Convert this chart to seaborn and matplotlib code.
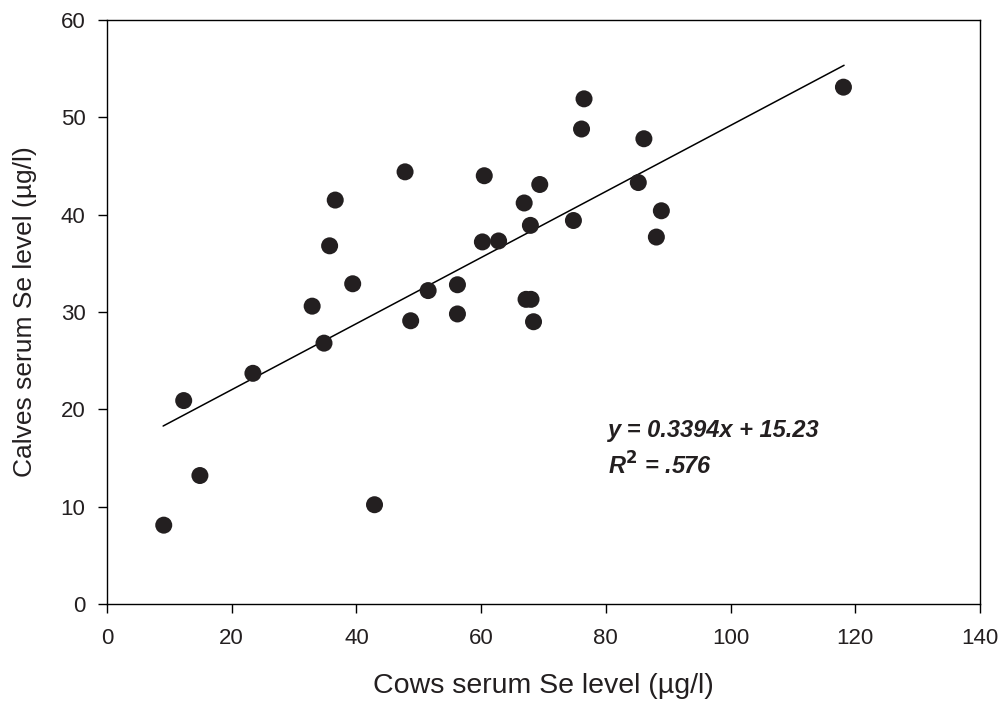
import matplotlib
matplotlib.use("Agg")
import matplotlib.pyplot as plt
import seaborn as sns
import numpy as np
import pandas as pd

cows_se = [9.1, 12.3, 14.9, 23.4, 32.9, 34.8, 35.7, 36.6, 39.4, 42.9,
           47.8, 48.7, 51.5, 56.2, 56.2, 60.2, 60.5, 62.8, 66.9, 67.2,
           68.0, 67.9, 68.4, 69.4, 74.8, 76.1, 76.5, 85.2, 86.1, 88.1,
           88.9, 118.1]
calves_se = [8.1, 20.9, 13.2, 23.7, 30.6, 26.8, 36.8, 41.5, 32.9, 10.2,
             44.4, 29.1, 32.2, 29.8, 32.8, 37.2, 44.0, 37.3, 41.2, 31.3,
             31.3, 38.9, 29.0, 43.1, 39.4, 48.8, 51.9, 43.3, 47.8, 37.7,
             40.4, 53.1]
fit_slope = 0.3394
fit_intercept = 15.23
fit_x_range = [9.0, 118.2]
x_ticks = [0, 20, 40, 60, 80, 100, 120, 140]
y_ticks = [0, 10, 20, 30, 40, 50, 60]

df = pd.DataFrame({"cows": cows_se, "calves": calves_se})

sns.set_style("white")
plt.rcParams['font.family'] = ['Liberation Sans', 'DejaVu Sans']

fig = plt.figure(figsize=(10.01, 7.01), dpi=100)
ax = fig.add_axes([107/1001, 1 - 604/701, (980-107)/1001, (604-20)/701])

fx = np.array(fit_x_range)
ax.plot(fx, fit_slope * fx + fit_intercept, color="black", lw=1.1, zorder=2)
sns.scatterplot(data=df, x="cows", y="calves", ax=ax, s=150, color="#231f20",
                edgecolor="none", zorder=3, legend=False)

ax.set_xlim(0, 140)
ax.set_ylim(0, 60)
ax.set_xticks(x_ticks)
ax.set_yticks(y_ticks)
ax.tick_params(axis="both", direction="out", length=6.5, width=1, labelsize=16,
               color="black", labelcolor="#231f20", bottom=True, left=True)
ax.tick_params(axis="x", pad=11)
ax.tick_params(axis="y", pad=9)
for sp in ax.spines.values():
    sp.set_color("black")
    sp.set_linewidth(1)

ax.set_xlabel("Cows serum Se level (µg/l)", fontsize=20.5, color="#231f20", labelpad=17)
ax.set_ylabel("Calves serum Se level (µg/l)", fontsize=19, color="#231f20", labelpad=17)

ax.text(80.3, 17.8, "y = 0.3394x + 15.23", fontsize=17, fontweight="bold",
        style="italic", color="#231f20", va="center", ha="left")
ax.text(80.3, 14.2, r"R$^{\mathbf{2}}$ = .576", fontsize=17, fontweight="bold",
        style="italic", color="#231f20", va="center", ha="left")

fig.savefig("out.png", dpi=100, facecolor="white")
